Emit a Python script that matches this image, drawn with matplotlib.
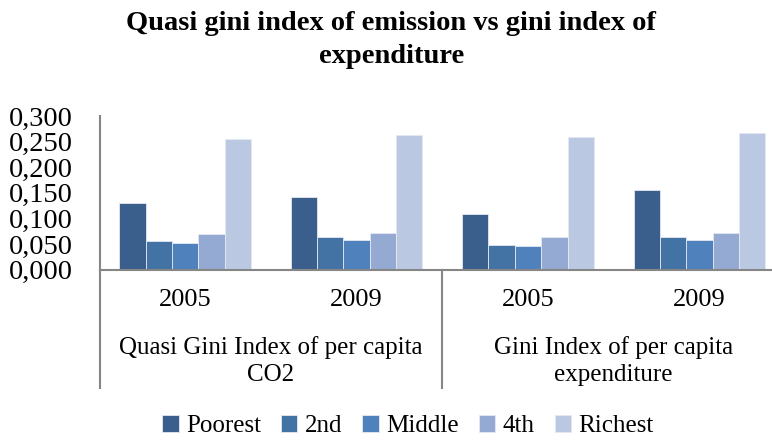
import numpy as np
import matplotlib
matplotlib.use("Agg")
import matplotlib.pyplot as plt
from matplotlib.lines import Line2D
from matplotlib.transforms import blended_transform_factory

# data
years = ["2005", "2009", "2005", "2009"]
groups = ["Quasi Gini Index of per capita\nCO2", "Gini Index of per capita\nexpenditure"]
series = ["Poorest", "2nd", "Middle", "4th", "Richest"]
poorest = [0.129, 0.141, 0.109, 0.155]
second = [0.056, 0.063, 0.048, 0.063]
middle = [0.052, 0.058, 0.046, 0.057]
fourth = [0.069, 0.071, 0.063, 0.071]
richest = [0.256, 0.263, 0.258, 0.266]
values = [poorest, second, middle, fourth, richest]
colors = ["#3B5F8D", "#4372A5", "#4F81BD", "#95AAD2", "#BBC8E1"]

plt.rcParams["font.family"] = ["Liberation Serif", "DejaVu Serif"]

W, H = 772, 440
fig = plt.figure(figsize=(W / 100, H / 100), dpi=100)
# plot area runs past the right edge, as in the source image
ax = fig.add_axes([99.5 / W, (H - 269.5) / H, 685.6 / W, 153.5 / H])

x = np.arange(len(years))
bw = 0.1537
for i, (name, vals) in enumerate(zip(series, values)):
    ax.bar(x + (i - 2) * bw, vals, bw, color=colors[i], label=name,
           edgecolor="#E4E9F2", linewidth=0.6)

ax.set_xlim(-0.5, 3.5)
ax.set_ylim(0, 0.3)
ax.set_yticks(np.arange(0, 0.301, 0.05))
ax.set_yticklabels([f"{v:.3f}".replace(".", ",") for v in np.arange(0, 0.301, 0.05)])
ax.tick_params(axis="y", length=0, pad=19.5, labelsize=20.5)
ax.set_xticks(x)
ax.set_xticklabels(years)
ax.tick_params(axis="x", length=0, pad=14, labelsize=19)

for s in ["top", "right"]:
    ax.spines[s].set_visible(False)
for s in ["left", "bottom"]:
    ax.spines[s].set_color("#868686")
    ax.spines[s].set_linewidth(1.5)

# group separators below the axis
tr = blended_transform_factory(ax.transData, ax.transAxes)
lo = -(388 - 269.5) / 153.5
for xs in [-0.5, 1.5, 3.5]:
    ax.add_line(Line2D([xs, xs], [0, lo], transform=tr,
                       color="#868686", linewidth=1.5, clip_on=False))

for gx, g in zip([0.5, 2.5], groups):
    ax.text(gx, -(361 - 269.5) / 153.5, g, transform=tr, ha="center", va="center",
            fontsize=18, linespacing=1.3)

fig.text(0.507, 1 - 40 / H, "Quasi gini index of emission vs gini index of\nexpenditure",
         ha="center", va="center", fontsize=20.5, fontweight="bold", linespacing=1.4)

fig.legend(loc="center", bbox_to_anchor=(408 / W, 1 - 426 / H), ncol=5, frameon=False,
           fontsize=18, handlelength=0.65, handleheight=0.65, handletextpad=0.3,
           columnspacing=0.8)

fig.savefig("out.png", dpi=100)
